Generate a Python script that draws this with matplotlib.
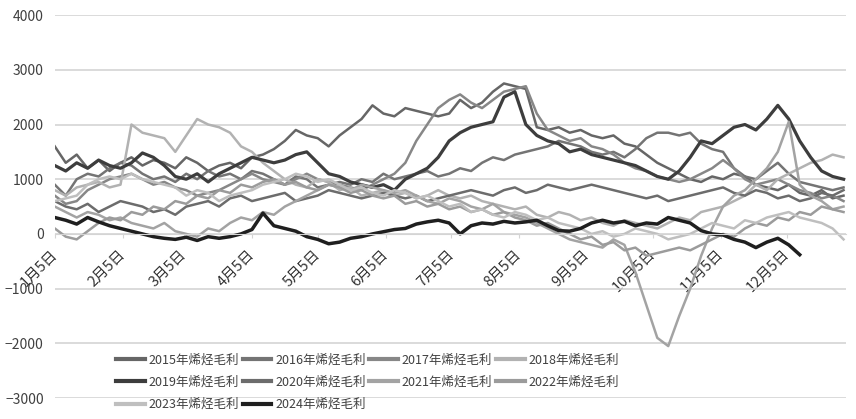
import matplotlib
matplotlib.use("Agg")
import matplotlib.pyplot as plt

plt.rcParams['font.family'] = ['Noto Sans CJK SC', 'DejaVu Sans']

# every 5 days from Jan 5 (day of year)
days = list(range(4, 365, 5))
month_ticks = [4, 35, 63, 94, 124, 155, 185, 216, 247, 277, 308, 338]
month_labels = ["1月5日", "2月5日", "3月5日", "4月5日", "5月5日", "6月5日",
                "7月5日", "8月5日", "9月5日", "10月5日", "11月5日", "12月5日"]

m2015 = [1600, 1300, 1450, 1200, 1350, 1150, 1300, 1400, 1250, 1350, 1300, 1200, 1400, 1300, 1150, 1250,
         1300, 1200, 1400, 1450, 1550, 1700, 1900, 1800, 1750, 1600, 1800, 1950, 2100, 2350, 2200, 2150,
         2300, 2250, 2200, 2150, 2200, 2450, 2300, 2400, 2600, 2750, 2700, 2650, 1950, 1900, 1950, 1850,
         1900, 1800, 1750, 1800, 1650, 1600, 1450, 1300, 1200, 1100, 1000, 950, 1050, 1000, 1100, 1050,
         900, 850, 800, 900, 750, 700, 800, 650, 700]
m2016 = [900, 700, 1000, 1100, 1050, 1200, 1300, 1250, 1100, 1000, 1050, 950, 1100, 1000, 1150, 1050,
         1100, 1000, 1150, 1100, 1000, 900, 1050, 1000, 850, 900, 950, 900, 1000, 950, 1100, 1000,
         1050, 1100, 1150, 1050, 1100, 1200, 1150, 1300, 1400, 1350, 1450, 1500, 1550, 1600, 1700, 1650,
         1600, 1500, 1450, 1500, 1400, 1550, 1750, 1850, 1850, 1800, 1850, 1650, 1550, 1500, 1200, 1050,
         1000, 1150, 1300, 1100, 950, 900, 850, 800, 850]
m2017 = [700, 550, 600, 800, 900, 1000, 1050, 1100, 1000, 900, 950, 850, 800, 700, 750, 800,
         900, 1000, 1100, 1000, 950, 900, 1000, 1100, 1000, 950, 900, 850, 800, 900, 1000, 1100,
         1300, 1700, 2000, 2300, 2450, 2550, 2400, 2300, 2450, 2600, 2650, 2700, 2200, 1900, 1800, 1700,
         1750, 1600, 1550, 1450, 1300, 1200, 1150, 1050, 1000, 950, 1000, 1100, 1200, 1350, 1200, 1000,
         900, 950, 1000, 900, 800, 750, 650, 700, 600]
m2018 = [800, 700, 850, 900, 950, 850, 900, 2000, 1850, 1800, 1750, 1500, 1800, 2100, 2000, 1950,
         1850, 1600, 1500, 1300, 1150, 1000, 900, 850, 1000, 950, 800, 850, 700, 750, 800, 700,
         750, 650, 700, 800, 700, 650, 700, 600, 550, 500, 450, 500, 350, 300, 400, 350,
         250, 300, 200, 150, 250, 200, 150, 100, 200, 300, 250, 400, 450, 500, 600, 700,
         900, 800, 1000, 1100, 1200, 1300, 1350, 1450, 1400]
m2019 = [1250, 1150, 1300, 1200, 1350, 1250, 1200, 1300, 1480, 1400, 1250, 1050, 1000, 1100, 950, 1100,
         1200, 1300, 1400, 1350, 1300, 1350, 1450, 1500, 1300, 1100, 1050, 950, 900, 850, 900, 800,
         1000, 1100, 1200, 1400, 1700, 1850, 1950, 2000, 2050, 2500, 2600, 2000, 1800, 1700, 1650, 1500,
         1550, 1450, 1400, 1350, 1300, 1250, 1150, 1050, 1000, 1150, 1400, 1700, 1650, 1800, 1950, 2000,
         1900, 2100, 2350, 2100, 1700, 1400, 1150, 1050, 1000]
m2020 = [600, 500, 450, 550, 400, 500, 600, 550, 500, 400, 450, 350, 500, 550, 600, 500,
         650, 700, 600, 650, 700, 750, 600, 650, 700, 800, 750, 700, 650, 700, 750, 700,
         650, 700, 600, 650, 700, 750, 800, 750, 700, 800, 850, 750, 800, 900, 850, 800,
         850, 900, 850, 800, 750, 700, 650, 700, 600, 650, 700, 750, 800, 850, 750, 700,
         800, 750, 650, 700, 600, 650, 750, 700, 800]
m2021 = [500, 400, 300, 400, 350, 250, 300, 200, 150, 100, 200, 50, 0, -50, 100, 50,
         200, 300, 250, 400, 350, 500, 600, 700, 800, 900, 850, 800, 900, 850, 800, 750,
         800, 700, 600, 550, 650, 600, 500, 450, 550, 400, 350, 300, 200, 100, 0, -100,
         -150, -200, -250, -100, -200, -700, -1300, -1900, -2050, -1500, -1000, -400, 100, 500, 700, 800,
         1000, 1200, 1500, 2050, 900, 700, 600, 450, 500]
m2022 = [100, -50, -100, 50, 200, 300, 250, 400, 350, 500, 450, 600, 550, 700, 650, 800,
         750, 900, 850, 950, 1000, 900, 950, 850, 800, 900, 850, 750, 800, 700, 650, 700,
         550, 600, 500, 550, 450, 500, 400, 450, 350, 400, 300, 250, 150, 200, 100, 0,
         -100, -50, -200, -150, -300, -250, -400, -350, -300, -250, -300, -200, -100, 0, -50, 100,
         200, 150, 300, 250, 400, 350, 500, 450, 400]
m2023 = [600, 650, 700, 900, 1000, 1050, 1000, 1100, 1000, 950, 900, 850, 700, 800, 750, 600,
         700, 750, 800, 900, 950, 1000, 1100, 1050, 950, 1000, 900, 800, 850, 750, 700, 800,
         750, 650, 700, 600, 500, 550, 400, 450, 350, 300, 400, 350, 250, 300, 200, 150,
         100, 0, 50, -50, 0, 100, 50, 0, -100, -50, 0, 100, 200, 150, 100, 250,
         200, 300, 350, 400, 300, 250, 200, 100, -100]
m2024 = [300, 250, 180, 300, 220, 150, 100, 50, 0, -50, -80, -100, -60, -120, -50, -80,
         -50, 0, 80, 380, 150, 100, 50, -50, -100, -180, -150, -80, -50, 0, 40, 80,
         100, 180, 220, 250, 200, 0, 150, 200, 180, 230, 200, 220, 250, 150, 60, 50,
         100, 200, 250, 200, 230, 150, 200, 180, 300, 250, 200, 60, 0, -20, -100, -150,
         -250, -150, -80, -200, -380]

series = [
    ("2015年烯烃毛利", m2015, "#666666", 1.8),
    ("2016年烯烃毛利", m2016, "#747474", 1.8),
    ("2017年烯烃毛利", m2017, "#878787", 1.8),
    ("2018年烯烃毛利", m2018, "#b2b2b2", 1.8),
    ("2019年烯烃毛利", m2019, "#3d3d3d", 2.3),
    ("2020年烯烃毛利", m2020, "#6c6c6c", 1.8),
    ("2021年烯烃毛利", m2021, "#a3a3a3", 1.8),
    ("2022年烯烃毛利", m2022, "#9b9b9b", 1.8),
    ("2023年烯烃毛利", m2023, "#bfbfbf", 1.8),
    ("2024年烯烃毛利", m2024, "#1f1f1f", 2.5),
]

fig = plt.figure(figsize=(8.56, 4.19), dpi=100)
ax = fig.add_axes([0.064, 0.05, 0.924, 0.914])

lines = []
for name, vals, col, lw in series:
    ln, = ax.plot(days[:len(vals)], vals, color=col, lw=lw, label=name)
    lines.append(ln)

ax.set_xlim(4, 365)
ax.set_ylim(-3000, 4000)
ax.set_yticks(range(-3000, 4001, 1000))
ax.yaxis.grid(True, color="#d4d4d4", lw=1.2)
ax.set_axisbelow(True)
for s in ["top", "right", "left"]:
    ax.spines[s].set_visible(False)
ax.spines["bottom"].set_position(("data", 0))
ax.spines["bottom"].set_color("#d4d4d4")
ax.tick_params(axis="y", length=0, labelsize=10, labelcolor="#404040", pad=8)

ax.set_xticks(month_ticks)
ax.set_xticklabels(month_labels, rotation=45, ha="right", va="center",
                   rotation_mode="anchor", fontsize=10.5, color="#333333", fontweight="medium")
ax.tick_params(axis="x", length=3, color="#d4d4d4", pad=10)

# legend filled row by row like the original
order = [0, 4, 8, 1, 5, 9, 2, 6, 3, 7]
leg = fig.legend([lines[i] for i in order], [series[i][0] for i in order],
                 loc="upper left", bbox_to_anchor=(0.128, 0.172), ncol=4, frameon=False,
                 fontsize=9, handlelength=2.3, handletextpad=0.3, columnspacing=0.3,
                 labelspacing=0.75, borderpad=0, labelcolor="#404040")
for ln in leg.get_lines():
    ln.set_linewidth(3)

fig.savefig("out.png", dpi=100)
